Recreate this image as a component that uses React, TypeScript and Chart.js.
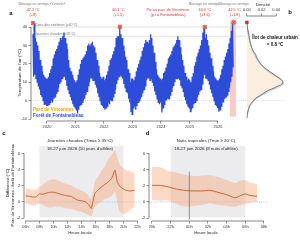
import React, { useEffect, useRef } from 'react';
import { Chart, registerables } from 'chart.js';
Chart.register(...registerables);

const FONT = "'Liberation Sans', Arial, Helvetica, sans-serif";

// ---------- Panel a : air temperature time series ----------
const yearTicks = [2020, 2021, 2022, 2023, 2024, 2025, 2026];
const yearLabels = ['2020', '2021', '2022', '2023', '2024', '2025', '2026'];
const tempTicks = [-10, 0, 10, 20, 30, 40];
const seriesStart = 2019.5; // half-month periods from July 2019
// half-monthly maxima / minima of the Fontainebleau series (Jul -> Jun per row)
const foretHi = [
  36, 42.1, 34, 32, 30, 27, 22, 19, 16, 14, 13, 12, 12, 13, 15, 17, 19, 23, 25, 27, 28, 30, 32, 34,
  33, 35, 37, 34, 31, 28, 22, 18, 16, 14, 12, 11, 10, 11, 14, 17, 20, 22, 23, 24, 25, 27, 30, 31,
  30, 31, 32, 30, 29, 26, 22, 19, 15, 13, 12, 13, 11, 12, 14, 16, 19, 22, 23, 25, 27, 29, 34, 35,
  35, 40.1, 36, 34, 30, 27, 24, 22, 17, 15, 10, 12, 12, 11, 13, 16, 18, 20, 22, 24, 27, 29, 31, 33,
  32, 31, 33, 36, 34, 30, 26, 21, 17, 14, 13, 12, 11, 12, 15, 16, 18, 20, 23, 24, 25, 27, 29, 30,
  31, 33, 35, 33, 29, 25, 22, 19, 15, 13, 11, 12, 11, 10, 13, 15, 19, 21, 24, 26, 28, 30, 33, 37,
  40, 34, 36, 33, 30, 26, 23, 19, 16, 13, 12, 11, 11, 12, 14, 17, 19, 22, 24, 26, 28, 31, 34, 38,
  42.5,
];
const foretLo = [
  13, 14, 12, 10, 8, 6, 3, 2, 0, -2, -2, -3, -3, -2, -1, 0, -1, 1, 2, 4, 5, 7, 9, 10,
  12, 13, 13, 11, 8, 6, 4, 2, 0, -2, -3, -4, -5, -7, -5, -3, -2, -1, 0, 1, 3, 5, 8, 10,
  12, 12, 11, 11, 9, 7, 4, 2, 0, -2, -3, -4, -5, -4, -3, -1, -2, 0, 0, 2, 4, 6, 9, 11,
  13, 14, 13, 12, 9, 7, 5, 4, 1, -1, -6, -7.5, -4, -3, -5, -3, -1, 0, 1, 2, 4, 6, 8, 11,
  12, 12, 11, 12, 10, 8, 5, 3, 1, -1, -2, -1, -6.5, -4, -2, 0, 0, 1, 1, 3, 5, 7, 8, 10,
  12, 12, 12, 11, 8, 7, 5, 2, 0, -2, -3, -4, -6, -5, -4, -2, -1, 0, 2, 3, 5, 6, 9, 12,
  14, 12, 12, 11, 9, 6, 4, 2, 0, -2, -3, -4, -6, -5, -3, -1, -1, 1, 2, 3, 5, 7, 10, 13,
  18,
];
const peakX = [2019.51, 2022.56, 2025.54, 2026.55];
const peakY = [42.1, 40.1, 40.0, 42.5];
const peakLabels = ['42.1 °C', '40.1 °C', '40.0 °C', '42.5 °C'];
const peakDiffs = ['(+8)', '(+1.5)', '(+3.6)', '(+1.8)'];
const heatwaveBand = [2026.42, 2026.63];
const thresholds = [40, 35];
const thresholdLabels = ['Canicules extrêmes (≥40°C)', 'Journées chaudes (≥35°C)'];

// ---------- Panel b : density ----------
const densTicks = [0, 0.02, 0.04];
const densTickLabels = ['0.00', '0.02', '0.04'];
const densTemp = [42.5, 41, 39, 37, 35, 33, 31, 29, 27, 25, 23, 21, 19, 17, 15, 13, 11.5, 10.3, 9, 8, 7, 5.5, 4, 2.5, 1, -0.5, -2, -3.5, -5, -6.5, -8, -9.5];
const densParis = [0, 0.0005, 0.001, 0.0022, 0.003, 0.004, 0.005, 0.0065, 0.0085, 0.012, 0.014, 0.017, 0.021, 0.027, 0.034, 0.041, 0.047, 0.049, 0.048, 0.043, 0.038, 0.029, 0.023, 0.017, 0.011, 0.008, 0.005, 0.003, 0.002, 0.001, 0.0005, 0];
const densForet = [0, 0.0003, 0.0008, 0.0015, 0.0025, 0.0035, 0.0045, 0.006, 0.008, 0.0105, 0.013, 0.016, 0.02, 0.025, 0.032, 0.04, 0.046, 0.049, 0.05, 0.047, 0.042, 0.033, 0.026, 0.019, 0.013, 0.009, 0.006, 0.004, 0.0025, 0.0013, 0.0006, 0];
const uhiValue = '= 0.8 °C';

// ---------- Panel c : hot days ----------
const diffTicks = [-2, 0, 2, 4, 6];
const dayHourTicks = [6, 8, 10, 12, 14, 16, 18, 20, 22];
const dayHourLabels = ['06h', '08h', '10h', '12h', '14h', '16h', '18h', '20h', '22h'];
const dayShade = [8, 20];
const dayHours = [6, 6.5, 7, 7.5, 8, 8.5, 9, 9.5, 10, 10.5, 11, 11.5, 12, 12.5, 13, 13.5, 14, 14.5, 15, 15.4, 15.9, 16.4, 16.9, 17.4, 17.8, 18.3, 18.8, 19.1, 19.5, 20.2, 20.9, 21.6];
const dayMean = [0.75, 0.7, 0.62, 0.6, 1.0, 0.95, 1.1, 1.2, 1.2, 1.1, 0.95, 0.85, 0.75, 0.7, 0.45, 0.2, 0.15, 0.05, -0.3, -0.8, 1.05, 1.5, 1.9, 2.2, 2.45, 2.9, 3.95, 2.5, 1.9, 1.5, 1.35, 1.45];
const dayUpper = [1.7, 1.6, 1.5, 1.5, 1.9, 2.2, 2.5, 2.7, 2.8, 2.7, 2.5, 2.3, 2.2, 2.1, 1.8, 1.6, 1.4, 1.2, 0.8, 0.3, 2.5, 3.2, 3.9, 4.5, 5.2, 5.8, 6.4, 5.6, 4.6, 4.0, 3.8, 3.6];
const dayLower = [-0.2, -0.3, -0.4, -0.4, -0.2, -0.4, -0.6, -0.7, -0.6, -0.6, -0.6, -0.7, -0.8, -0.8, -1.0, -1.1, -1.2, -1.4, -1.6, -1.8, -0.6, -0.2, 0.1, 0.4, 0.5, 0.7, 1.3, 0.0, -1.2, -1.5, -1.0, -0.6];

// ---------- Panel d : tropical nights ----------
const nightHourTicks = [20, 22, 24, 26, 28, 30, 32];
const nightHourLabels = ['20h', '22h', '00h', '02h', '04h', '06h', '08h'];
const nightShade = [22, 30];
const midnight = 24;
const nightHours = [20, 20.9, 21.6, 22.25, 23, 23.75, 24.8, 25.6, 26.2, 27, 28, 28.9, 29.4, 30, 30.5, 31.25];
const nightMean = [2.05, 2.05, 1.9, 1.7, 1.5, 1.4, 1.35, 1.38, 1.45, 1.2, 0.9, 0.5, 0.75, 1.0, 0.8, 0.7];
const nightUpper = [4.3, 4.3, 3.9, 3.7, 3.5, 3.3, 3.2, 3.3, 3.3, 3.1, 2.7, 2.3, 2.6, 2.7, 2.4, 2.2];
const nightLower = [0.2, 0.15, 0.2, -0.1, -0.4, -0.6, -0.45, -0.3, -0.15, -0.35, -0.5, -0.6, -0.4, -0.25, -0.1, 0.0];

// ---------- helpers ----------
const RED = '#d8322b';
const BLUE = '#2d4dd8';
const ORANGE = '#f0a202';
const GREY_TXT = '#7a7a7a';
const BAND = 'rgba(246,170,125,0.45)';
const LINE_C = '#c9622e';

function txt(ctx: CanvasRenderingContext2D, s: string, x: number, y: number, o: any = {}) {
  ctx.save();
  ctx.font = `${o.bold ? 'bold ' : ''}${o.size || 4}px ${FONT}`;
  ctx.fillStyle = o.color || '#222';
  ctx.textAlign = o.align || 'center';
  ctx.textBaseline = 'middle';
  if (o.rotate) {
    ctx.translate(x, y);
    ctx.rotate(o.rotate);
    ctx.fillText(s, 0, 0);
  } else ctx.fillText(s, x, y);
  ctx.restore();
}

function drawAxisLines(chart: any) {
  const { ctx, chartArea: ca } = chart;
  ctx.save();
  ctx.strokeStyle = '#333';
  ctx.lineWidth = 0.6;
  Object.values(chart.scales).forEach((s: any) => {
    if (!s.options.display || !s.ticks.length) return;
    const a = s.getPixelForValue(s.ticks[0].value);
    const b = s.getPixelForValue(s.ticks[s.ticks.length - 1].value);
    ctx.beginPath();
    if (s.isHorizontal()) {
      const yy = s.position === 'top' ? ca.top : ca.bottom;
      ctx.moveTo(a, yy); ctx.lineTo(b, yy);
    } else {
      ctx.moveTo(ca.left, a); ctx.lineTo(ca.left, b);
    }
    ctx.stroke();
  });
  ctx.restore();
}

function linAxis(ticksArr: number[], labels: string[] | null, extra: any = {}) {
  return {
    type: 'linear',
    afterBuildTicks: (s: any) => { s.ticks = ticksArr.map((v) => ({ value: v })); },
    grid: { display: true, drawOnChartArea: false, drawTicks: true, tickLength: 2.5, color: '#333', lineWidth: 0.5 },
    border: { display: false },
    ticks: {
      font: { size: 4, family: FONT }, color: '#333', padding: 1.2, autoSkip: false, maxRotation: 0, minRotation: 0,
      callback: (v: number, i: number) => (labels ? labels[i] : String(v)),
    },
    ...extra,
  };
}

const baseOpts = {
  responsive: false,
  animation: false,
  events: [],
  plugins: { legend: { display: false }, tooltip: { enabled: false }, title: { display: false } },
};

// Panel a
function cfgA(): any {
  const pts: any[] = [];
  for (let i = 0; i < foretHi.length; i++) {
    const xc = seriesStart + (i + 0.5) / 24;
    pts.push({ x: xc - 1 / 96, y: foretHi[i] }, { x: xc + 1 / 96, y: foretLo[i] });
  }
  const peaks = peakX.map((x, i) => ({ x, y: peakY[i] }));
  const plugin = {
    id: 'pA',
    beforeDatasetsDraw(chart: any) {
      const { ctx, chartArea: ca, scales: { x, y } } = chart;
      ctx.save();
      const b1 = x.getPixelForValue(heatwaveBand[0]);
      const b2 = x.getPixelForValue(heatwaveBand[1]);
      const t = y.getPixelForValue(43.5), bo = y.getPixelForValue(-8.7);
      ctx.fillStyle = 'rgba(245,160,150,0.55)';
      ctx.fillRect(b1, t, b2 - b1, bo - t);
      ctx.strokeStyle = '#cfcfcf';
      ctx.lineWidth = 0.6;
      thresholds.forEach((v) => {
        const py = y.getPixelForValue(v);
        ctx.beginPath(); ctx.moveTo(ca.left, py); ctx.lineTo(ca.right, py); ctx.stroke();
      });
      ctx.setLineDash([1, 1]);
      const p0 = y.getPixelForValue(0);
      ctx.beginPath(); ctx.moveTo(ca.left, p0); ctx.lineTo(ca.right, p0); ctx.stroke();
      ctx.restore();
      thresholdLabels.forEach((s, i) => {
        txt(ctx, s, ca.left + 4, y.getPixelForValue(thresholds[i]) - 2, { size: 3.4, color: GREY_TXT, align: 'left' });
      });
    },
    afterDraw(chart: any) {
      const { ctx, scales: { x } } = chart;
      drawAxisLines(chart);
      txt(ctx, 'a', 11, 13, { size: 6, bold: true, color: '#111' });
      txt(ctx, "Température de l'air (°C)", 19.5, 73, { size: 4.4, rotate: -Math.PI / 2, color: '#222' });
      txt(ctx, 'Blocage en oméga «Yvonne»', 42, 3.5, { size: 3.6, color: GREY_TXT });
      txt(ctx, 'Blocage en oméga', 204, 3.5, { size: 3.6, color: GREY_TXT });
      txt(ctx, 'Blocage en oméga', 233.5, 3.5, { size: 3.6, color: GREY_TXT });
      const nudge = [0, -1.5, 0, 1];
      peakX.forEach((v, i) => {
        const px = x.getPixelForValue(v) + nudge[i];
        txt(ctx, peakLabels[i], px, 10, { size: 3.8, color: RED });
        txt(ctx, peakDiffs[i], px, 15.3, { size: 3.8, color: RED });
      });
      txt(ctx, 'Pic au parc de Vincennes', 168, 10, { size: 3.8, color: RED });
      txt(ctx, '(p.r.à Fontainebleau)', 168, 15.3, { size: 3.8, color: RED });
      txt(ctx, 'Parc de Vincennes', 33, 110, { size: 4.6, bold: true, color: ORANGE, align: 'left' });
      txt(ctx, 'Forêt de Fontainebleau', 33, 115.8, { size: 4.6, bold: true, color: BLUE, align: 'left' });
    },
  };
  return {
    type: 'line',
    data: {
      datasets: [
        { data: pts, borderColor: BLUE, borderWidth: 1.3, pointRadius: 0, fill: false, tension: 0, order: 3 },
        { type: 'scatter', data: peaks, pointStyle: 'rect', pointRadius: 2.4, backgroundColor: 'rgba(246,170,160,0.9)', borderColor: RED, borderWidth: 0.6, order: 2, clip: false },
        { type: 'scatter', data: peaks, pointStyle: 'crossRot', pointRadius: 1.8, borderColor: '#a01818', borderWidth: 0.6, order: 1, clip: false },
      ],
    },
    options: {
      ...baseOpts,
      layout: { padding: { left: 21, right: 54, top: 8, bottom: 109 } },
      scales: {
        x: linAxis(yearTicks, yearLabels, { min: 2019.439, max: 2026.983, afterFit: (s: any) => { s.height = 10; } }),
        y: linAxis(tempTicks, null, { min: -11.087, max: 50.33, afterFit: (s: any) => { s.width = 10; } }),
      },
    },
    plugins: [plugin],
  };
}

// Panel b
function cfgB(): any {
  const plugin = {
    id: 'pB',
    beforeDatasetsDraw(chart: any) {
      const { ctx, chartArea: ca, scales: { y } } = chart;
      ctx.save();
      ctx.strokeStyle = '#cfcfcf';
      ctx.lineWidth = 0.6;
      ctx.setLineDash([1, 1]);
      const p0 = y.getPixelForValue(0);
      ctx.beginPath(); ctx.moveTo(ca.left, p0); ctx.lineTo(ca.right, p0); ctx.stroke();
      ctx.restore();
    },
    afterDraw(chart: any) {
      const { ctx } = chart;
      drawAxisLines(chart);
      txt(ctx, 'Densité', 263, 5, { size: 4.2, color: '#222' });
      txt(ctx, 'b', 290, 12.5, { size: 6, bold: true, color: '#111' });
      txt(ctx, 'Îlot de chaleur urbain', 275, 37.5, { size: 4.5, bold: true, color: '#111' });
      txt(ctx, uhiValue, 275, 44.5, { size: 4.5, bold: true, color: '#111' });
    },
  };
  return {
    type: 'line',
    data: {
      datasets: [
        { data: densTemp.map((t, i) => ({ x: densParis[i], y: t })), borderColor: '#4d4d55', borderWidth: 0.8, backgroundColor: '#fbeedd', fill: 'shape', pointRadius: 0, tension: 0.3, order: 3 },
        { data: densTemp.map((t, i) => ({ x: densForet[i], y: t })), borderColor: '#7f8db8', borderWidth: 0.5, fill: false, pointRadius: 0, tension: 0.3, order: 2 },
        { type: 'scatter', data: [{ x: 0, y: peakY[3] }], pointStyle: 'rect', pointRadius: 2, backgroundColor: RED, borderColor: '#a01818', borderWidth: 0.5, order: 1, clip: false },
      ],
    },
    options: {
      ...baseOpts,
      layout: { padding: { left: 246.5, right: 15, top: 8, bottom: 119 } },
      scales: {
        x: linAxis(densTicks, densTickLabels, { position: 'top', min: -0.0005, max: 0.052, afterFit: (s: any) => { s.height = 8; } }),
        y: { type: 'linear', display: false, min: -11.087, max: 45.98 },
      },
    },
    plugins: [plugin],
  };
}

// Panels c / d
function cfgDiff(kind: 'c' | 'd'): any {
  const isC = kind === 'c';
  const hrs = isC ? dayHours : nightHours;
  const mean = isC ? dayMean : nightMean;
  const up = isC ? dayUpper : nightUpper;
  const lo = isC ? dayLower : nightLower;
  const shade = isC ? dayShade : nightShade;
  const cx = isC ? 80 : 206;
  const plugin = {
    id: 'p' + kind,
    beforeDatasetsDraw(chart: any) {
      const { ctx, chartArea: ca, scales: { x, y } } = chart;
      ctx.save();
      const s1 = x.getPixelForValue(shade[0]), s2 = x.getPixelForValue(shade[1]);
      const t = y.getPixelForValue(6.9), b = y.getPixelForValue(-1.9);
      ctx.fillStyle = '#ececee';
      ctx.fillRect(s1, t, s2 - s1, b - t);
      ctx.strokeStyle = '#86a8d8';
      ctx.lineWidth = 0.6;
      ctx.setLineDash([1, 1.2]);
      const p0 = y.getPixelForValue(0);
      ctx.beginPath(); ctx.moveTo(ca.left, p0); ctx.lineTo(ca.right, p0); ctx.stroke();
      ctx.restore();
    },
    afterDatasetsDraw(chart: any) {
      if (isC) return;
      const { ctx, scales: { x, y } } = chart;
      ctx.save();
      ctx.strokeStyle = '#555';
      ctx.lineWidth = 0.6;
      const mx = x.getPixelForValue(midnight);
      ctx.beginPath(); ctx.moveTo(mx, y.getPixelForValue(3.75)); ctx.lineTo(mx, y.getPixelForValue(-2.2)); ctx.stroke();
      ctx.restore();
    },
    afterDraw(chart: any) {
      const { ctx } = chart;
      drawAxisLines(chart);
      txt(ctx, kind, isC ? 4 : 147.5, 133, { size: 6, bold: true, color: '#111' });
      if (isC) {
        txt(ctx, 'Journées chaudes (Tmax ≥ 35°C)', cx, 140.5, { size: 4.4 });
        txt(ctx, "18-27 juin 2026 (10 jours d'affilée)", cx, 148.5, { size: 4.4 });
        txt(ctx, 'Différence (°C)', 7.5, 183, { size: 4.3, rotate: -Math.PI / 2 });
        txt(ctx, 'Parc de Vincennes - forêt de Fontainebleau', 13.2, 185, { size: 4.3, rotate: -Math.PI / 2 });
      } else {
        txt(ctx, 'Nuits tropicales (Tmin ≥ 20°C)', cx, 140.5, { size: 4.4 });
        txt(ctx, "18-27 juin 2026 (8 nuits d'affilée)", cx, 148.5, { size: 4.4 });
      }
      txt(ctx, 'Heure locale', cx, 233, { size: 4.2 });
    },
  };
  const pts = (arr: number[]) => arr.map((v, i) => ({ x: hrs[i], y: v }));
  return {
    type: 'line',
    data: {
      datasets: [
        { data: pts(up), borderWidth: 0, borderColor: 'rgba(0,0,0,0)', backgroundColor: BAND, fill: '+1', pointRadius: 0, tension: 0.2, order: 3 },
        { data: pts(lo), borderWidth: 0, borderColor: 'rgba(0,0,0,0)', fill: false, pointRadius: 0, tension: 0.2, order: 2 },
        { data: pts(mean), borderColor: LINE_C, borderWidth: 1, fill: false, pointRadius: 0, tension: 0.1, order: 1 },
      ],
    },
    options: {
      ...baseOpts,
      layout: { padding: isC ? { left: 16, right: 160, top: 144, bottom: 10 } : { left: 141, right: 32, top: 144, bottom: 10 } },
      scales: {
        x: linAxis(isC ? dayHourTicks : nightHourTicks, isC ? dayHourLabels : nightHourLabels, {
          min: isC ? 5.786 : 19.68, max: isC ? 22.36 : 32.43, afterFit: (s: any) => { s.height = 9; },
        }),
        y: linAxis(diffTicks, null, { min: -2.35, max: 7.16, afterFit: (s: any) => { s.width = 8; } }),
      },
    },
    plugins: [plugin],
  };
}

export default function App() {
  const rA = useRef<HTMLCanvasElement>(null);
  const rB = useRef<HTMLCanvasElement>(null);
  const rC = useRef<HTMLCanvasElement>(null);
  const rD = useRef<HTMLCanvasElement>(null);
  useEffect(() => {
    document.body.style.margin = '0';
    const charts = [
      new Chart(rA.current!, cfgA()),
      new Chart(rB.current!, cfgB()),
      new Chart(rC.current!, cfgDiff('c')),
      new Chart(rD.current!, cfgDiff('d')),
    ];
    return () => charts.forEach((c) => c.destroy());
  }, []);
  const st: React.CSSProperties = { position: 'absolute', left: 0, top: 0, width: 300, height: 240 };
  return (
    <div style={{ position: 'relative', width: 300, height: 240, background: '#fff', overflow: 'hidden' }}>
      <canvas ref={rA} width={300} height={240} style={st} />
      <canvas ref={rB} width={300} height={240} style={st} />
      <canvas ref={rC} width={300} height={240} style={st} />
      <canvas ref={rD} width={300} height={240} style={st} />
    </div>
  );
}
